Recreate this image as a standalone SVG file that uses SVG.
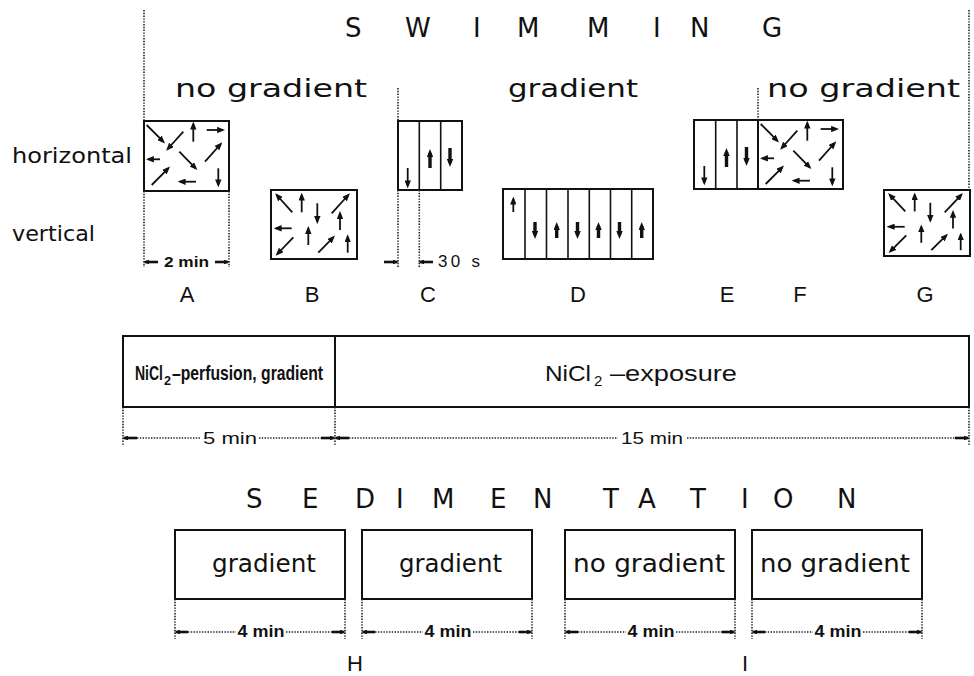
<svg xmlns="http://www.w3.org/2000/svg" width="974" height="676" viewBox="0 0 974 676">
<defs>
<style>
.box{fill:none;stroke:#111;stroke-width:2}
.dv{stroke:#111;stroke-width:1.6}
.dot{fill:none;stroke:#222;stroke-width:1.6;stroke-dasharray:1.4 1.4}
.ar{fill:none;stroke:#111;stroke-width:1.8;marker-end:url(#ah)}
.tk{fill:none;stroke:#111;stroke-width:3.4;marker-end:url(#ahk)}
.dim{fill:none;stroke:#111;stroke-width:2.6;marker-end:url(#ahd)}
.geo{font-family:"DejaVu Sans","Liberation Sans",sans-serif;fill:#111}
.hv{font-family:"Liberation Sans",Arial,sans-serif;fill:#111}
</style>
<marker id="ah" viewBox="0 0 10 8" refX="7" refY="4" markerWidth="8" markerHeight="6.4" markerUnits="userSpaceOnUse" orient="auto"><path d="M0,0 L10,4 L0,8 Z" fill="#111"/></marker>
<marker id="ahk" viewBox="0 0 10 8" refX="5" refY="4" markerWidth="8" markerHeight="6.4" markerUnits="userSpaceOnUse" orient="auto"><path d="M0,0 L10,4 L0,8 Z" fill="#111"/></marker>
<marker id="ahd" viewBox="0 0 10 8" refX="7" refY="4" markerWidth="6" markerHeight="4.8" markerUnits="userSpaceOnUse" orient="auto"><path d="M0,0 L10,4 L0,8 Z" fill="#111"/></marker>
<g id="patA">
<line class="ar" x1="2.7" y1="4" x2="19.3" y2="20.7"/>
<line class="ar" x1="39.3" y1="10.7" x2="23.7" y2="28"/>
<line class="ar" x1="49.3" y1="20.7" x2="49.3" y2="3"/>
<line class="ar" x1="62.7" y1="9" x2="78.7" y2="9"/>
<line class="ar" x1="16" y1="38.3" x2="4.3" y2="38.3"/>
<line class="ar" x1="35.3" y1="30.7" x2="51.7" y2="47.3"/>
<line class="ar" x1="61" y1="40.7" x2="76.7" y2="23"/>
<line class="ar" x1="7.7" y1="64" x2="24.3" y2="47.3"/>
<line class="ar" x1="52" y1="60.7" x2="36" y2="60.7"/>
<line class="ar" x1="74.3" y1="47.3" x2="74.3" y2="64"/>
</g>
<g id="patB">
<line class="ar" x1="21.3" y1="22.3" x2="5.7" y2="5"/>
<line class="ar" x1="30.7" y1="22.3" x2="30.7" y2="5"/>
<line class="ar" x1="46.3" y1="13.3" x2="46.3" y2="31.7"/>
<line class="ar" x1="60.7" y1="23.3" x2="77.3" y2="5"/>
<line class="ar" x1="69" y1="40" x2="69" y2="23.3"/>
<line class="ar" x1="20.7" y1="38.3" x2="5" y2="38.3"/>
<line class="ar" x1="37.3" y1="55" x2="37.3" y2="38.3"/>
<line class="ar" x1="22.3" y1="47.3" x2="6.3" y2="64"/>
<line class="ar" x1="47.3" y1="62.7" x2="62.3" y2="47.3"/>
<line class="ar" x1="76.7" y1="62.7" x2="76.7" y2="46.7"/>
</g>
</defs>

<rect width="974" height="676" fill="#fff"/>

<g id="titles">
<text class="geo" font-size="26" x="345 405 473 517 587 653 690 762" y="37">SWIMMING</text>
<text class="geo" font-size="26" x="246 302 355 396 432 490 533 603 638 690 741 773 837" y="508">SEDIMENTATION</text>
<text class="geo" font-size="24" x="175" y="97" textLength="192" lengthAdjust="spacingAndGlyphs">no gradient</text>
<text class="geo" font-size="24" x="508" y="97" textLength="130" lengthAdjust="spacingAndGlyphs">gradient</text>
<text class="geo" font-size="24" x="767" y="97" textLength="193" lengthAdjust="spacingAndGlyphs">no gradient</text>
<text class="geo" font-size="21" x="12" y="163" textLength="120" lengthAdjust="spacingAndGlyphs">horizontal</text>
<text class="geo" font-size="21" x="12" y="241" textLength="83" lengthAdjust="spacingAndGlyphs">vertical</text>
</g>

<g id="node-A">
<rect class="box" x="144" y="121" width="85" height="70"/>
<use href="#patA" transform="translate(144,121)"/>
<text class="hv" font-size="22" x="187" y="302" text-anchor="middle">A</text>
</g>

<g id="node-B">
<rect class="box" x="271" y="190" width="86" height="69"/>
<use href="#patB" transform="translate(271,190)"/>
<text class="hv" font-size="22" x="312" y="302" text-anchor="middle">B</text>
</g>

<g id="node-C">
<rect class="box" x="398" y="121" width="64" height="69"/>
<line class="dv" x1="419.3" y1="121" x2="419.3" y2="190"/>
<line class="dv" x1="440.7" y1="121" x2="440.7" y2="190"/>
<line class="ar" stroke-width="1.5" x1="407.7" y1="168" x2="407.7" y2="186"/>
<line class="tk" x1="430" y1="168" x2="430" y2="153"/>
<line class="tk" x1="450" y1="148" x2="450" y2="163"/>
<text class="hv" font-size="22" x="428" y="302" text-anchor="middle">C</text>
</g>

<g id="node-D">
<rect class="box" x="503" y="189" width="150" height="70"/>
<line class="dv" x1="525" y1="189" x2="525" y2="259"/>
<line class="dv" x1="546.5" y1="189" x2="546.5" y2="259"/>
<line class="dv" x1="568" y1="189" x2="568" y2="259"/>
<line class="dv" x1="589.3" y1="189" x2="589.3" y2="259"/>
<line class="dv" x1="610.5" y1="189" x2="610.5" y2="259"/>
<line class="dv" x1="631.7" y1="189" x2="631.7" y2="259"/>
<line class="ar" stroke-width="1.5" x1="513.3" y1="212" x2="513.3" y2="199"/>
<line class="tk" x1="535" y1="222" x2="535" y2="235"/>
<line class="tk" x1="556.7" y1="238" x2="556.7" y2="226"/>
<line class="tk" x1="577.5" y1="222" x2="577.5" y2="235"/>
<line class="tk" x1="598.5" y1="238" x2="598.5" y2="226"/>
<line class="tk" x1="619.5" y1="222" x2="619.5" y2="235"/>
<line class="tk" x1="641.7" y1="238" x2="641.7" y2="226"/>
<text class="hv" font-size="22" x="578" y="302" text-anchor="middle">D</text>
</g>

<g id="node-E">
<rect class="box" x="694" y="120" width="64" height="69"/>
<line class="dv" x1="715.7" y1="120" x2="715.7" y2="189"/>
<line class="dv" x1="737" y1="120" x2="737" y2="189"/>
<line class="ar" stroke-width="1.5" x1="704.3" y1="166" x2="704.3" y2="183"/>
<line class="tk" x1="726.5" y1="167" x2="726.5" y2="152"/>
<line class="tk" x1="746.5" y1="147" x2="746.5" y2="162"/>
<text class="hv" font-size="22" x="727" y="302" text-anchor="middle">E</text>
</g>

<g id="node-F">
<rect class="box" x="758" y="120" width="85" height="69"/>
<use href="#patA" transform="translate(758,120)"/>
<text class="hv" font-size="22" x="800" y="302" text-anchor="middle">F</text>
</g>

<g id="node-G">
<rect class="box" x="884" y="190" width="86" height="66"/>
<use href="#patB" transform="translate(884,190) scale(1,0.96)"/>
<text class="hv" font-size="22" x="925" y="302" text-anchor="middle">G</text>
</g>

<g id="node-bar">
<rect class="box" x="123" y="336" width="846" height="71"/>
<line class="box" x1="335" y1="336" x2="335" y2="407"/>
<text class="hv" font-size="21" font-weight="bold" x="135" y="380" textLength="28" lengthAdjust="spacingAndGlyphs">NiCl</text>
<text class="hv" font-size="13" font-weight="bold" x="164" y="385" textLength="7" lengthAdjust="spacingAndGlyphs">2</text>
<text class="hv" font-size="21" font-weight="bold" x="172" y="380" textLength="151" lengthAdjust="spacingAndGlyphs">–perfusion, gradient</text>
<text class="hv" font-size="22" x="545" y="381" textLength="46" lengthAdjust="spacingAndGlyphs">NiCl</text>
<text class="hv" font-size="15" x="594" y="386">2</text>
<text class="hv" font-size="22" x="610" y="381" textLength="127" lengthAdjust="spacingAndGlyphs">–exposure</text>
</g>

<g id="node-sed1">
<rect class="box" x="175" y="530" width="170" height="69"/>
<text class="geo" font-size="24" x="212" y="572" textLength="104" lengthAdjust="spacingAndGlyphs">gradient</text>
<text class="hv" font-size="22" x="355" y="671" text-anchor="middle">H</text>
</g>
<g id="node-sed2">
<rect class="box" x="362" y="530" width="170" height="69"/>
<text class="geo" font-size="24" x="399" y="572" textLength="103" lengthAdjust="spacingAndGlyphs">gradient</text>
</g>
<g id="node-sed3">
<rect class="box" x="565" y="530" width="170" height="69"/>
<text class="geo" font-size="24" x="573" y="572" textLength="152" lengthAdjust="spacingAndGlyphs">no gradient</text>
<text class="hv" font-size="22" x="745" y="671" text-anchor="middle">I</text>
</g>
<g id="node-sed4">
<rect class="box" x="752" y="530" width="170" height="69"/>
<text class="geo" font-size="24" x="760" y="572" textLength="150" lengthAdjust="spacingAndGlyphs">no gradient</text>
</g>

<g id="connectors">
<line class="dot" x1="144" y1="10" x2="144" y2="121"/>
<line class="dot" x1="969" y1="10" x2="969" y2="190"/>
<line class="dot" x1="398" y1="88" x2="398" y2="121"/>
<line class="dot" x1="758" y1="88" x2="758" y2="120"/>
<line class="dot" x1="144" y1="191" x2="144" y2="267"/>
<line class="dot" x1="229" y1="191" x2="229" y2="267"/>
<line class="dot" x1="398" y1="190" x2="398" y2="268"/>
<line class="dot" x1="419.3" y1="190" x2="419.3" y2="268"/>
<line class="dim" x1="158" y1="262" x2="145" y2="262"/>
<line class="dim" x1="215" y1="262" x2="228" y2="262"/>
<text class="hv" font-size="14" font-weight="bold" x="186.5" y="267" text-anchor="middle" textLength="45" lengthAdjust="spacingAndGlyphs">2 min</text>
<line class="dim" x1="384" y1="262" x2="397" y2="262"/>
<line class="dim" x1="433" y1="262" x2="420" y2="262"/>
<text class="hv" font-size="17" x="438" y="267" textLength="42" lengthAdjust="spacing">30 s</text>

<line class="dot" x1="123" y1="407" x2="123" y2="446"/>
<line class="dot" x1="335" y1="407" x2="335" y2="446"/>
<line class="dot" x1="969" y1="407" x2="969" y2="446"/>
<line class="dot" x1="137" y1="438" x2="201" y2="438"/>
<line class="dot" x1="259" y1="438" x2="321" y2="438"/>
<line class="dot" x1="349" y1="438" x2="618" y2="438"/>
<line class="dot" x1="687" y1="438" x2="955" y2="438"/>
<line class="dim" x1="137" y1="438" x2="124" y2="438"/>
<line class="dim" x1="321" y1="438" x2="334" y2="438"/>
<line class="dim" x1="349" y1="438" x2="336" y2="438"/>
<line class="dim" x1="955" y1="438" x2="968" y2="438"/>
<text class="hv" font-size="17" x="230" y="444" text-anchor="middle" textLength="54" lengthAdjust="spacingAndGlyphs">5 min</text>
<text class="hv" font-size="17" x="652" y="444" text-anchor="middle" textLength="62" lengthAdjust="spacingAndGlyphs">15 min</text>

<line class="dot" x1="175" y1="599" x2="175" y2="639"/>
<line class="dot" x1="345" y1="599" x2="345" y2="639"/>
<line class="dot" x1="362" y1="599" x2="362" y2="639"/>
<line class="dot" x1="532" y1="599" x2="532" y2="639"/>
<line class="dot" x1="565" y1="599" x2="565" y2="639"/>
<line class="dot" x1="735" y1="599" x2="735" y2="639"/>
<line class="dot" x1="752" y1="599" x2="752" y2="639"/>
<line class="dot" x1="922" y1="599" x2="922" y2="639"/>

<line class="dot" x1="188" y1="632" x2="236" y2="632"/>
<line class="dot" x1="286" y1="632" x2="332" y2="632"/>
<line class="dim" x1="188" y1="632" x2="176" y2="632"/>
<line class="dim" x1="332" y1="632" x2="344" y2="632"/>
<text class="hv" font-size="16" font-weight="bold" x="261" y="637" text-anchor="middle" textLength="47" lengthAdjust="spacingAndGlyphs">4 min</text>

<line class="dot" x1="375" y1="632" x2="423" y2="632"/>
<line class="dot" x1="473" y1="632" x2="519" y2="632"/>
<line class="dim" x1="375" y1="632" x2="363" y2="632"/>
<line class="dim" x1="519" y1="632" x2="531" y2="632"/>
<text class="hv" font-size="16" font-weight="bold" x="448" y="637" text-anchor="middle" textLength="47" lengthAdjust="spacingAndGlyphs">4 min</text>

<line class="dot" x1="578" y1="632" x2="626" y2="632"/>
<line class="dot" x1="676" y1="632" x2="722" y2="632"/>
<line class="dim" x1="578" y1="632" x2="566" y2="632"/>
<line class="dim" x1="722" y1="632" x2="734" y2="632"/>
<text class="hv" font-size="16" font-weight="bold" x="651" y="637" text-anchor="middle" textLength="47" lengthAdjust="spacingAndGlyphs">4 min</text>

<line class="dot" x1="765" y1="632" x2="813" y2="632"/>
<line class="dot" x1="863" y1="632" x2="909" y2="632"/>
<line class="dim" x1="765" y1="632" x2="753" y2="632"/>
<line class="dim" x1="909" y1="632" x2="921" y2="632"/>
<text class="hv" font-size="16" font-weight="bold" x="838" y="637" text-anchor="middle" textLength="47" lengthAdjust="spacingAndGlyphs">4 min</text>
</g>
</svg>
